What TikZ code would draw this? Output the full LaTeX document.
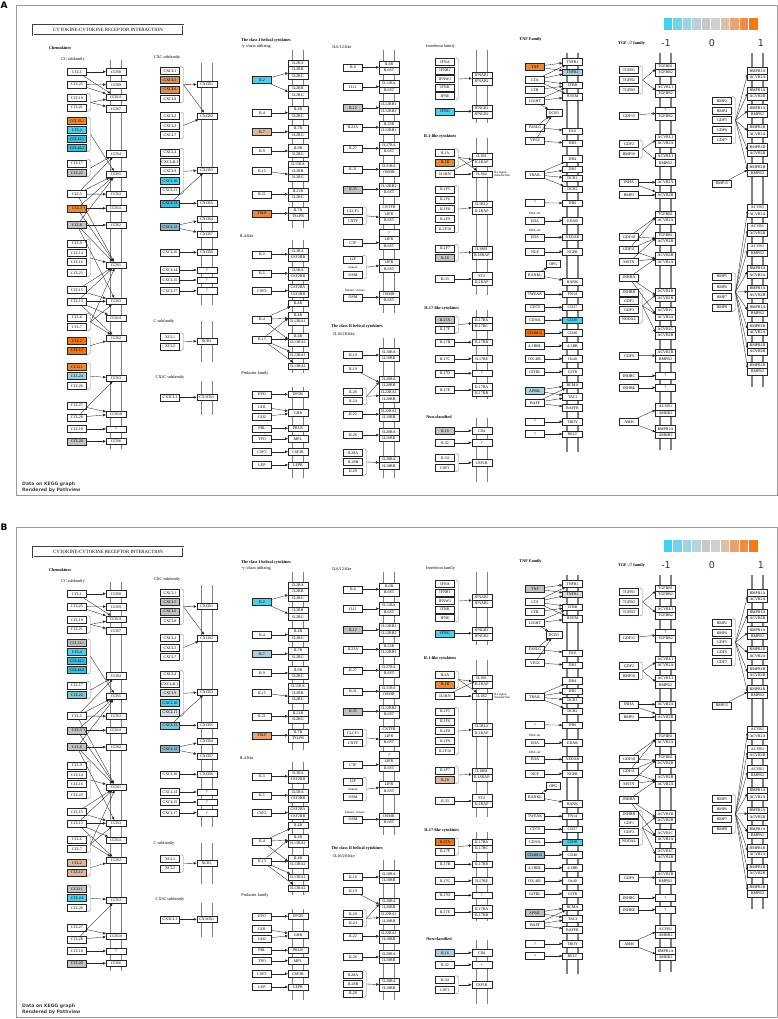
\documentclass[tikz,border=0pt]{standalone}
\usepackage{fontspec}
\setmainfont{Liberation Serif}
\newfontfamily\dejavu{DejaVu Sans}
\usepackage{tikz}
\usetikzlibrary{arrows.meta}

% expression colours
\definecolor{kCyan}{HTML}{4CCFEA}
\definecolor{kCyanD}{HTML}{3CBEDB}
\definecolor{kSky}{HTML}{A9D0DA}
\definecolor{kSkyD}{HTML}{80C3D4}
\definecolor{kSteel}{HTML}{8DB6C2}
\definecolor{kPale}{HTML}{D2E4E8}
\definecolor{kGrey}{HTML}{C2C2C2}
\definecolor{kLgrey}{HTML}{DCDCDC}
\definecolor{kTan}{HTML}{D9B89C}
\definecolor{kOrTan}{HTML}{D8905C}
\definecolor{kOrLight}{HTML}{E8A26C}
\definecolor{kOrange}{HTML}{EA8838}
\definecolor{kDeep}{HTML}{EE7414}
% colour key
\definecolor{cb1}{HTML}{3FD0F2}
\definecolor{cb2}{HTML}{72D3EC}
\definecolor{cb3}{HTML}{9CD5E2}
\definecolor{cb4}{HTML}{BAD3D9}
\definecolor{cb5}{HTML}{C8C8C8}
\definecolor{cb6}{HTML}{D0D0D0}
\definecolor{cb7}{HTML}{DDBFA5}
\definecolor{cb8}{HTML}{E6A472}
\definecolor{cb9}{HTML}{EF8D40}
\definecolor{cb10}{HTML}{F77B10}

% gene colour per panel
\newcommand\setcols[2]{\foreach \gn/\gk in {#2}{\expandafter\xdef\csname c@#1@\gn\endcsname{\gk}}}
\newcommand\gcolor[1]{\ifcsname c@\pnl @#1\endcsname\csname c@\pnl @#1\endcsname\else white\fi}
\setcols{A}{CCL3L1/kOrange, CCL4/kCyan, CCL4L1/kCyanD, CCL4L2/kCyanD, CCL22/kGrey, CCL3/kOrange, CCL8/kGrey, CCL2/kDeep, CCL12/kDeep, CCL11/kOrange, CCL24/kSky, CCL20/kGrey, CXCL5/kOrTan, CXCL6/kOrTan, CXCL10/kCyan, CXCL13/kCyanD, CXCL12/kSteel, IL2/kCyan, IL7/kTan, TSLP/kOrange, IL12/kGrey, IL35/kGrey, IFNG/kCyan, IL1B/kOrange, IL18/kGrey, TNF/kOrange, TNFR2/kSky, IL17A/kGrey, IL16/kGrey, CD30/kCyan, CD40LG/kDeep, APRIL/kSky}
\setcols{B}{CCL3L1/kGrey, CCL4/kCyan, CCL4L1/kCyanD, CCL4L2/kCyanD, CCL22/kSkyD, CCL3/kGrey, CCL8/kGrey, CCL2/kTan, CCL12/kTan, CCL11/kGrey, CCL24/kCyan, CCL20/kGrey, CXCL5/kGrey, CXCL6/kGrey, CXCL9/kLgrey, CXCL10/kCyan, CXCL11/kPale, CXCL13/kSkyD, CXCL12/kSteel, IL2/kCyan, IL7/kSky, TSLP/kOrLight, IL12/kGrey, IL35/kGrey, IFNG/kCyan, TNF/kGrey, TNFR2/kLgrey, IL1B/kOrange, IL18/kTan, IL17A/kDeep, IL16/kSky, CD30/kCyan, CD40LG/kSteel, APRIL/kGrey}

% gene box, receptor pair, bracket, membrane
\newcommand\gb[4][]{\edef\gcol{\gcolor{#4}}\node[gene,fill=\gcol,#1] (#2) at (#3) {#4};}
\newcommand\rp[5]{\gb[rec]{#1t}{#2,{#3}}{#4}\gb[rec]{#1b}{#2,{#3+6.6}}{#5}\coordinate (#1) at ({#2-10},{#3+3.3});}
\newcommand\brk[4]{\draw[brkt] (#2,{#3-4}) -- ({#2+3.5},{#3-4}) -- ({#2+3.5},{#4+4}) -- (#2,{#4+4});
  \coordinate (#1) at ({#2+3.5},{(#3+#4)/2});}
\newcommand\mem[3]{\draw[memb] ({#1-5.5},#2) -- ({#1-5.5},#3) ({#1+5.5},#2) -- ({#1+5.5},#3);}

\newcommand\keggpanel{%
  % frame, title, key
  \draw[frame] (16,5) rectangle (777,495);
  \node[plabel] (plabel) at (4,5) {\pnl};
  \node[titlebox] (title) at (108,30) {CYTOKINE-CYTOKINE RECEPTOR INTERACTION};
  \foreach \i in {1,...,10}
    \fill[cb\i, draw=white, line width=0.3pt] ({653.5+9.5*\i},17) rectangle ++(9.5,13);
  \node[keytxt] (kmin) at (666,43) {-1};
  \node[keytxt] (kmid) at (712,43) {0};
  \node[keytxt] (kmax) at (761,43) {1};
  \node[credit] (credit) at (22,487) {Data on KEGG graph\\Rendered by Pathview};
  % membranes
  \mem{116}{60}{449} \mem{206.7}{63}{305} \mem{206.7}{321}{362} \mem{206.7}{381}{415}
  \mem{298}{50}{228} \mem{298}{240}{373} \mem{298}{387}{478}
  \mem{389}{50}{313} \mem{389}{338}{478}
  \mem{481.7}{50}{123} \mem{481.7}{138}{295} \mem{481.7}{310}{399} \mem{481.7}{418}{482}
  \mem{572.5}{53}{452} \mem{665.5}{53}{450} \mem{757.5}{53}{387}
  % group titles
  \node[grp] (tChemo) at (60,48) {Chemokines};
  \node[sub] (tCC) at (73,59) {CC subfamily};
  \node[sub] (tCXC) at (167,57.7) {CXC subfamily};
  \node[sub] (tC) at (164,321) {C subfamily};
  \node[sub] (tCX3C) at (170,377.3) {CX3C subfamily};
  \node[grp] (tClassI) at (266,40) {The class I helical cytokines};
  \node[sub] (tGamma) at (256,46.7) {$\gamma$-chain utilizing};
  \node[sub] (tIL4) at (246.7,236) {IL4-like};
  \node[sub] (tPrl) at (255,373.3) {Prolactin family};
  \node[sub] (tIL6) at (342,47.3) {IL6/12-like};
  \node[grp] (tClassII) at (357,326.7) {The class II helical cytokines};
  \node[sub] (tIL10) at (344,334.3) {IL10/28-like};
  \node[sub] (tIFN) at (440.5,46.7) {Interferon family};
  \node[grp] (tIL1) at (440,136) {IL1-like cytokines};
  \node[grp] (tIL17) at (441.7,308.3) {IL17-like cytokines};
  \node[grp] (tNon) at (439,416.7) {Non-classified};
  \node[grp] (tTNF) at (530.5,39.3) {TNF Family};
  \node[grp] (tTGF) at (631.5,43.3) {TGF-$\beta$ family};

  % CC subfamily
  \foreach \nm/\yy/\lb in {c1/71.7/CCL1, c25/84.3/CCL25, c19/97.7/CCL19, c21/107.3/CCL21, c3l1/121/CCL3L1, c4/130/CCL4, c4l1/139/CCL4L1, c4l2/147.7/CCL4L2, c17/163.3/CCL17, c22/172.7/CCL22, c5/194/CCL5, c3/208.3/CCL3, c8/225/CCL8, c9/243.3/CCL9, c14/252.7/CCL14, c16/262/CCL16, c23/272.7/CCL23, c15/290/CCL15, c13/301.3/CCL13, c6/317.3/CCL6, c7/326.7/CCL7, c2/341/CCL2, c12/350.3/CCL12, c11/366.7/CCL11, c24/376/CCL24, c26/385.7/CCL26, c27/405.3/CCL27, c28/417.3/CCL28, c18/429/CCL18, c20/441.3/CCL20}
    {\gb{\nm}{77,\yy}{\lb}}
  \foreach \nm/\yy/\lb in {r8/71.7/CCR8, r9/84.7/CCR9, r11a/97/CCR11, r7/108.7/CCR7, r4/153.7/CCR4, r5/174.3/CCR5, r3a/194.3/CCR3, r11b/208.3/CCR11, r2a/225/CCR2, r1/265/CCR1, r3b/301.3/CCR3, r11c/318/CCR11, r2b/338/CCR2, r3c/378/CCR3, r10/414/CCR10, rq/429/?, r6/441.3/CCR6}
    {\gb[rec]{\nm}{116,\yy}{\lb}}
  \brk{bc1}{87}{97.7}{107.3} \brk{bc2}{87}{121}{147.7} \brk{bc3}{87}{163.3}{172.7}
  \brk{bc4}{87}{243.3}{272.7} \brk{bc5}{87}{317.3}{326.7} \brk{bc6}{87}{341}{350.3}
  \brk{bc7}{87}{366.7}{385.7}
  \foreach \a/\b in {c1/r8, c1/r11a, c25/r9, c25/r11a, bc1/r11a, bc1/r7, bc2/r5, bc3/r4, c5/r4, c5/r5, c5/r3a, c5/r1, c3/r5, c3/r11b, c3/r1, c8/r5, c8/r2a, c8/r1, c8/r3b, bc4/r1, c15/r1, c15/r3b, c13/r1, c13/r3b, c13/r11c, c13/r2b, bc5/r1, bc5/r3b, bc5/r2b, bc6/r2b, bc7/r3c, c27/r10, c28/r10, c28/r3c, c18/rq, c20/r6}
    \draw[act] (\a) -- (\b);

  % CXC, C and CX3C subfamilies
  \foreach \nm/\yy/\lb in {x1/70.7/CXCL1, x5/80/CXCL5, x6/89.3/CXCL6, x8/98.7/CXCL8, x2/116/CXCL2, x3/125.7/CXCL3, x7/135/CXCL7, x4/152.3/CXCL4, x4l/161.7/CXCL4L1, x9/171/CXCL9, x10/180.7/CXCL10, x11/190.3/CXCL11, x13/203.3/CXCL13, x12/226.7/CXCL12, x16/252.3/CXCL16, x14/270/CXCL14, x15/280/CXCL15, x17/290.7/CXCL17, xl1/336.7/XCL1, xl2/346.3/XCL2, cx3/397.3/CX3CL1}
    {\gb{\nm}{170,\yy}{\lb}}
  \foreach \nm/\yy/\lb in {xr1/84.3/CXCR1, xr2/116/CXCR2, xr3/170/CXCR3, xr5/203.3/CXCR5, xr4/219/CXCR4, xr7/234/CXCR7, xr6/252.3/CXCR6, xq1/270/?, xq2/280/?, xq3/290.7/?, xcr/341/XCR1, cx3r/397.3/CX3CR1}
    {\gb[rec]{\nm}{206.7,\yy}{\lb}}
  \brk{bx1}{180}{70.7}{98.7} \brk{bx2}{180}{116}{135} \brk{bx3}{180}{152.3}{190.3} \brk{bx4}{180}{336.7}{346.3}
  \foreach \a/\b in {bx1/xr1, bx1/xr2, bx2/xr2, bx3/xr3, x13/xr3, x13/xr5, x12/xr4, x12/xr7, x16/xr6, x14/xq1, x15/xq2, x17/xq3, bx4/xcr, cx3/cx3r}
    \draw[act] (\a) -- (\b);

  % class I helical: gamma-chain and IL4-like
  \gb{il2}{262,80}{IL2}
  \gb[rec]{g1}{298,63}{IL2RA} \rp{g2}{298}{69.6}{IL2RB}{IL2RG} \rp{g3}{298}{88.3}{IL2RB}{IL2RG}
  \gb{il15}{262,170.7}{IL15}
  \gb[rec]{g15a}{298,164.3}{IL15RA} \rp{g15}{298}{170.9}{IL2RB}{IL2RG}
  \foreach \nm/\yy/\lb/\ru/\rv in {il4/112.7/IL4/IL4R/IL2RG, il7/131.7/IL7/IL7R/IL2RG, il9/151/IL9/IL9R/IL2RG, il21/194.3/IL21/IL21R/IL2RG, tslp/213.3/TSLP/IL7R/TSLPR, il3/254.3/IL3/IL3RA/CSF2RB, il5/273.3/IL5/IL5RA/CSF2RB, csf2/290.7/CSF2/CSF2RA/CSF2RB}
    {\gb{\nm}{262,\yy}{\lb} \rp{\nm r}{298}{\yy-3.3}{\ru}{\rv} \draw[act] (\nm) -- (\nm r);}
  \gb{il4b}{262,319.3}{IL4} \gb{il13}{262,339.3}{IL13}
  \gb[rec]{l4a}{298,303.3}{IL4R} \rp{l4b}{298}{315}{IL4R}{IL13RA1} \rp{l4c}{298}{336}{IL4R}{IL13RA2}
  \gb[rec]{l4d}{298,355}{IL13RA1} \gb[rec]{l4e}{298,366}{IL13RA2}
  \foreach \a/\b in {il2/g2, il2/g3, il15/g15, il4b/l4a, il4b/l4b, il4b/l4c, il13/l4b, il13/l4c, il13/l4d, il13/l4e}
    \draw[act] (\a) -- (\b);

  % prolactin family
  \foreach \nm/\yy/\lb/\ru in {epo/394.3/EPO/EPOR, prl/428.3/PRL/PRLR, tpo/438.7/TPO/MPL, csf3/451.7/CSF3/CSF3R, lep/465/LEP/LEPR}
    {\gb{\nm}{262,\yy}{\lb} \gb[rec]{\nm r}{298,\yy}{\ru} \draw[act] (\nm) -- (\nm r);}
  \gb{gh1}{262,406.7}{GH1} \gb{gh2}{262,416.7}{GH2} \gb[rec]{ghr}{298,412.7}{GHR}
  \draw[act] (gh1) -- (ghr); \draw[act] (gh2) -- (ghr);

  % IL6/12-like
  \foreach \nm/\yy/\lb/\ru/\rv in {il6/67.3/IL6/IL6R/IL6ST, il11/86.7/IL11/IL11RA/IL6ST, il12/107.7/IL12/IL12RB1/IL12RB2, il23/127.3/IL23A/IL23R/IL12RB1, il27/148.3/IL27/IL27RA/IL6ST, il31/169.3/IL31/IL31RA/OSMR, il35/189.3/IL35/IL12RB2/IL6ST, ctf/242.7/CTF/LIFR/IL6ST, osm2/297.3/OSM/OSMR/IL6ST}
    {\gb{\nm}{353,\yy}{\lb} \rp{\nm r}{389}{\yy-3.3}{\ru}{\rv} \draw[act] (\nm) -- (\nm r);}
  \gb[rec]{n1a}{389,207.3}{CNTFR} \rp{n1}{389}{213.9}{LIFR}{IL6ST}
  \gb[rec]{n2a}{389,232.8}{?}
  \rp{n3}{389}{262.3}{LIFR}{IL6ST}
  \foreach \nm/\yy/\lb in {clcf1/211/CLCF1, cntf/220.7/CNTF, lif/259.3/LIF, osm/275/OSM}
    {\gb{\nm}{353,\yy}{\lb}}
  \node[note] (thuman) at (353,267.2) {human};
  \node[note] (thm) at (355,290.3) {human / mouse};
  \brk{bn1}{363}{211}{220.7} \brk{bn3}{363}{259.3}{275}
  \draw[act] (bn1) -- (n1); \draw[act] (bn3) -- (n3);

  % class II helical
  \foreach \nm/\yy/\lb in {il10/355/IL10, il19/369/IL19, il20/391.7/IL20, il24/401/IL24, il22/414.3/IL22, il26/435/IL26, il28a/452.7/IL28A, il28b/462/IL28B, il29/471.3/IL29}
    {\gb{\nm}{353,\yy}{\lb}}
  \rp{h1}{389}{351.7}{IL10RA}{IL10RB} \rp{h2}{389}{379}{IL20RA}{IL20RB} \rp{h3}{389}{392.3}{IL22RA1}{IL20RB}
  \rp{h4}{389}{411}{IL22RA1}{IL10RB} \rp{h5}{389}{431.7}{IL20RA}{IL10RB} \rp{h6}{389}{459.3}{IL28RA}{IL10RB}
  \brk{bq1}{363}{391.7}{401} \brk{bq2}{363}{452.7}{471.3}
  \foreach \a/\b in {il10/h1, il19/h2, bq1/h2, bq1/h3, il22/h4, il26/h5, bq2/h6}
    \draw[act] (\a) -- (\b);

  % interferon family
  \foreach \nm/\yy/\lb in {ifna/62/IFNA, ifnb/70.5/IFNB1, ifnw/79/IFNW1, ifnk/87.5/IFNK, ifne/96/IFNE, ifng/111.3/IFNG}
    {\gb{\nm}{445,\yy}{\lb}}
  \rp{f1}{481.7}{75}{IFNAR1}{IFNAR2} \rp{f2}{481.7}{108}{IFNGR1}{IFNGR2}
  \brk{bf1}{455}{62}{96}
  \draw[act] (bf1) -- (f1); \draw[act] (ifng) -- (f2);

  % IL1-like
  \foreach \nm/\yy/\lb in {il1a/152.7/IL1A, il1b/162.3/IL1B, il1rn/174/IL1RN, il1f5/189.3/IL1F5, il1f6/199.2/IL1F6, il1f8/209.1/IL1F8, il1f9/219/IL1F9, il1f10/229/IL1F10, il1f7/248.3/IL1F7, il18/257.7/IL18, il33/279/IL33}
    {\gb{\nm}{445,\yy}{\lb}}
  \rp{i1}{481.7}{156}{IL1R1}{IL1RAP} \gb[rec]{i2}{481.7,174}{IL1R2}
  \rp{i3}{481.7}{204.3}{IL1RL2}{IL1RAP} \rp{i4}{481.7}{249}{IL18R1}{IL18RAP} \rp{i5}{481.7}{275.7}{ST2}{IL1RAP}
  \node[note, anchor=west] (nosig) at (494,174) {No signal\\transduction};
  \brk{bi1}{455}{152.7}{162.3} \brk{bi2}{455}{189.3}{229} \brk{bi3}{455}{248.3}{257.7}
  \foreach \a/\b in {bi1/i1, bi1/i2, il1rn/i1t, il1rn/i2, bi2/i3, bi3/i4, il33/i5}
    \draw[act] (\a) -- (\b);

  % IL17-like and non-classified
  \foreach \nm/\yy/\lb in {il17a/320/IL17A, il17f/329.3/IL17F, il17b/342.3/IL17B, il17c/358.7/IL17C, il17d/373.3/IL17D, il17e/390/IL17E, il16/430.7/IL16, il32/442.7/IL32, il34/457.7/IL34, csf1/467.7/CSF1}
    {\gb{\nm}{445,\yy}{\lb}}
  \rp{j1}{481.7}{320}{IL17RA}{IL17RC} \rp{j5}{481.7}{386.7}{IL17RA}{IL17RB}
  \foreach \nm/\yy/\lb in {j2/342.3/IL17RB, j3/358.7/IL17RE, j4/373.3/?, cd4/430.7/CD4, q32/442.7/?, csf1r/462.7/CSF1R}
    {\gb[rec]{\nm}{481.7,\yy}{\lb}}
  \brk{bj1}{455}{320}{329.3} \brk{bk1}{455}{457.7}{467.7}
  \foreach \a/\b in {bj1/j1, il17b/j2, il17c/j3, il17d/j4, il17e/j5, il16/cd4, il32/q32, bk1/csf1r}
    \draw[act] (\a) -- (\b);

  % TNF family
  \foreach \nm/\yy/\lb in {tnf/66.7/TNF, lta/80/LTA, ltb/90/LTB, light/101/LIGHT, fasl/127.3/FASLG, vegi/140.7/VEGI, trail/174.7/TRAIL, tq1/202.7/?, eda1/220.7/EDA, eda2/237.3/EDA, ngf/251.7/NGF, rankl/275/RANKL, tweak/294.3/TWEAK, cd70/307.3/CD70, cd30l/320/CD30L, cd40l/332.7/CD40LG, bbl/345.7/4-1BBL, ox40l/358.7/OX-40L, gitrl/371.7/GITRL, april/390.7/APRIL, baff/402.7/BAFF, tq2/421.7/?, tq3/434/?}
    {\gb{\nm}{535,\yy}{\lb}}
  \foreach \nm/\yy/\lb in {t1/61.7/TNFR1, t2/72/TNFR2, t3/85/LTBR, t4/96.7/HVEM, fas/131/FAS, dr3/143.3/DR3, dr4/158.7/DR4, dr5/169/DR5, dcr1/178.3/DCR1, dcr2/189.3/DCR2, dr6/203.3/DR6, edar/220.7/EDAR, xedar/237.3/XEDAR, ngfr/251.7/NGFR, rank/281.7/RANK, fn14/294.3/FN14, cd27/307.3/CD27, cd30/320/CD30, cd40/332.7/CD40, bb/345.7/4-1BB, ox40/358.7/Ox40, gitr/371.7/GITR, bcma/385/BCMA, taci/396.7/TACI, baffr/407.7/BAFFR, troy/421.7/TROY, relt/434/RELT}
    {\gb[rec]{\nm}{572.5,\yy}{\lb}}
  \gb[minimum width=16pt]{dcr3}{553.8,112.7}{DCR3}
  \gb[minimum width=14pt]{opg}{553.3,264}{OPG}
  \node[note] (tEDA1) at (535,213.4) {EDA-A1};
  \node[note] (tEDA2) at (535,230) {EDA-A2};
  \foreach \a/\b in {tnf/t1, tnf/t2, lta/t1, lta/t2, lta/t3, lta/t4, ltb/t3, light/t3, light/t4, light/dcr3, fasl/fas, fasl/dcr3, vegi/dr3, vegi/dcr3, trail/dr4, trail/dr5, trail/dcr1, trail/dcr2, tq1/dr6, eda1/edar, eda2/xedar, ngf/ngfr, rankl/rank, rankl/opg, tweak/fn14, cd70/cd27, cd30l/cd30, cd40l/cd40, bbl/bb, ox40l/ox40, gitrl/gitr, april/bcma, april/taci, baff/bcma, baff/taci, baff/baffr, tq2/troy, tq3/relt}
    \draw[act] (\a) -- (\b);

  % TGF-beta family, left column
  \foreach \nm/\yy/\lb in {tb1/70/TGFB1, tb2/80/TGFB2, tb3/90/TGFB3, gdf15/115.7/GDF15, gdf2/144/GDF2, bmp10/154/BMP10, inha/182.3/INHA, bmp3/195/BMP3, gdf10/236.7/GDF10, gdf11/249.3/GDF11, mstn/262/MSTN, inhba/277.3/INHBA, inhbb/292.3/INHBB, gdf1/301/GDF1, gdf3/310/GDF3, nodal/319.3/NODAL, gdf9/355.7/GDF9, inhbc/375.7/INHBC, inhbe/387.7/INHBE, amh/421.7/AMH}
    {\gb{\nm}{629,\yy}{\lb}}
  \foreach \nm/\yy/\ru/\rv in {a1/66/TGFBR1/TGFBR2, a2/87/ACVRL1/TGFBR2, a3/110/?/TGFBR2, a4/137/ACVRL1/ACVR2A, a5/156.3/ACVRL1/BMPR2, a8/214/TGFBR1/ACVR2A, a9/235/TGFBR1/ACVR2B, a10/255.5/ACVR2B/ACVR2A, a11/291.7/ACVR1B/ACVR2B, a12/310.7/ACVR1C/ACVR2A, a13/329/ACVR1C/ACVR2B, a14/352.3/ACVR1B/BMPR2, a17/406.7/ACVR1/AMHR2, a18/428.7/BMPR1A/AMHR2}
    {\rp{\nm}{665.5}{\yy}{\ru}{\rv}}
  \foreach \nm/\yy/\lb in {a6/182.3/ACVR2A, a7/195/ACVR2B, a15/375.7/?, a16/387.7/?}
    {\gb[rec]{\nm}{665.5,\yy}{\lb}}
  \brk{bt1}{639}{70}{90} \brk{bt2}{639}{144}{154} \brk{bt3}{639}{292.3}{319.3}
  \foreach \a/\b in {bt1/a1, bt1/a2, gdf15/a3, bt2/a4, bt2/a5, inha/a6, inha/a7, bmp3/a7, gdf10/a8, gdf10/a9, gdf11/a8, gdf11/a9, gdf11/a10, mstn/a9, mstn/a10, inhba/a10, inhba/a11, inhba/a12, bt3/a11, bt3/a12, bt3/a13, gdf9/a14, inhbc/a15, inhbe/a16, amh/a17, amh/a18}
    \draw[act] (\a) -- (\b);

  % TGF-beta family, right column
  \foreach \nm/\yy/\lb in {bmp2/100.7/BMP2, bmp4/110.7/BMP4, gdf5/120/GDF5, gdf6/130/GDF6, gdf7/140/GDF7, bmp15/183.3/BMP15, bmp5/276.7/BMP5, bmp6/286.7/BMP6, bmp7/297/BMP7, bmp8/307.3/BMP8}
    {\gb{\nm}{722,\yy}{\lb}}
  \foreach \nm/\yy/\ru/\rv in {rb1/70.7/BMPR1A/ACVR2A, rb2/90/BMPR1A/ACVR2B, rb3/107.7/BMPR1A/BMPR2, rb4/127.3/BMPR1B/ACVR2A, rb5/146.7/BMPR1B/ACVR2B, rb6/166.7/BMPR1B/BMPR2, rc1/207.3/ACVR1/ACVR2A, rc2/226.7/ACVR1/ACVR2B, rc3/246.7/ACVR1/BMPR2, rc4/268.3/BMPR1A/ACVR2A, rc5/288.3/BMPR1A/ACVR2B, rc6/306.7/BMPR1A/BMPR2, rc7/325.7/BMPR1B/ACVR2A, rc8/345/BMPR1B/ACVR2B, rc9/365/BMPR1B/BMPR2}
    {\rp{\nm}{757.5}{\yy}{\ru}{\rv}}
  \brk{br1}{732}{100.7}{140} \brk{br2}{732}{276.7}{307.3}
  \foreach \b in {rb1, rb2, rb3, rb4, rb5, rb6}
    \draw[act] (br1) -- (\b);
  \draw[act] (bmp15) -- (rb6);
  \foreach \b in {rc1, rc2, rc3, rc4, rc5, rc6, rc7, rc8, rc9}
    \draw[act] (br2) -- (\b);
}

\begin{document}
\begin{tikzpicture}[x=1pt, y=-1pt,
  gene/.style={draw=black!85, line width=0.3pt, minimum width=19pt, minimum height=7pt, inner sep=0pt, font=\fontsize{4}{4.5}\selectfont},
  rec/.style={minimum width=20pt, minimum height=6.6pt},
  act/.style={draw=black!85, line width=0.35pt, -{Triangle[length=2.8pt,width=2.4pt]}},
  memb/.style={draw=black!50, line width=1.3pt},
  brkt/.style={draw=black!45, line width=0.4pt, rounded corners=2.5pt},
  frame/.style={draw=black!40, line width=0.8pt},
  titlebox/.style={draw=black!75, double=white, double distance=0.5pt, line width=0.45pt, minimum width=150pt, minimum height=10pt, inner sep=0pt, font=\fontsize{4.8}{5}\selectfont},
  grp/.style={font=\fontsize{4.2}{5}\selectfont\bfseries, inner sep=0pt},
  sub/.style={font=\fontsize{4.2}{5}\selectfont, inner sep=0pt},
  note/.style={font=\fontsize{3.2}{3.6}\selectfont, inner sep=0pt, align=left},
  keytxt/.style={font=\dejavu\fontsize{9.5}{10}\selectfont, text=black!80, inner sep=0pt},
  credit/.style={font=\dejavu\bfseries\fontsize{4.6}{5.6}\selectfont, text=black!75, inner sep=0pt, align=left, anchor=west},
  plabel/.style={font=\dejavu\bfseries\fontsize{9}{10}\selectfont, inner sep=0pt}]
  \useasboundingbox[fill=white] (0,0) rectangle (778,1019);
  % panel A
  \def\pnl{A}
  \begin{scope}[name prefix=A-]
    \keggpanel
  \end{scope}
  % panel B, same map one panel lower
  \def\pnl{B}
  \begin{scope}[name prefix=B-, yshift=-522pt]
    \keggpanel
  \end{scope}
\end{tikzpicture}
\end{document}
